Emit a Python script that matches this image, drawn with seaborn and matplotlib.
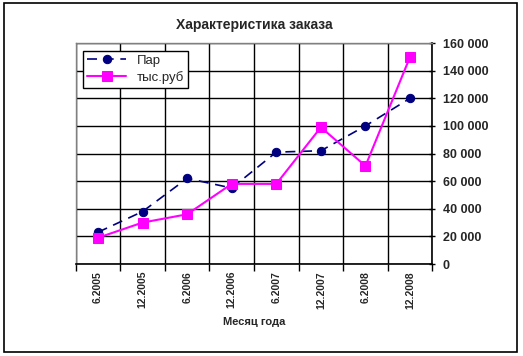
import matplotlib
matplotlib.use("Agg")
import matplotlib.pyplot as plt
import matplotlib.ticker as mticker
from matplotlib.patches import Rectangle
import numpy as np
import pandas as pd
import seaborn as sns

# Chart data
months = ["6.2005", "12.2005", "6.2006", "12.2006", "6.2007", "12.2007", "6.2008", "12.2008"]
pairs = [23000, 38000, 62000, 55000, 81000, 82000, 100000, 120000]
rub = [19000, 30000, 36000, 58000, 58000, 99000, 71000, 150000]

df = pd.DataFrame({"pos": np.arange(len(months)), "Пар": pairs, "тыс.руб": rub})

sns.set_style("white")
plt.rcParams["font.family"] = ["Liberation Sans", "DejaVu Sans"]

fig = plt.figure(figsize=(5.23, 3.56), dpi=100)
ax = fig.add_axes([0.1447, 0.2584, 0.682, 0.6208])

sns.lineplot(data=df, x="pos", y="Пар", ax=ax, color="#000080", linestyle=(0, (6, 4)),
             linewidth=1.2, marker="o", markersize=6, markeredgecolor="#000080", label="Пар")
sns.lineplot(data=df, x="pos", y="тыс.руб", ax=ax, color="#FF00FF", linestyle="-",
             linewidth=1.5, marker="s", markersize=6.5, markeredgecolor="#FF00FF", label="тыс.руб")

ax.set_xlim(-0.5, len(months) - 0.5)
ax.set_ylim(0, 160000)

# x axis: labels at centers, ticks/grid at category boundaries
ax.set_xticks(np.arange(len(months)))
ax.set_xticklabels(months, rotation=90, fontsize=7.5, fontweight="bold")
ax.set_xticks(np.arange(len(months) + 1) - 0.5, minor=True)
ax.tick_params(axis="x", which="major", length=0, pad=5)
ax.tick_params(axis="x", which="minor", length=5, width=1, color="black", direction="out", bottom=True)

# y axis on the right
ax.yaxis.tick_right()
ax.set_yticks(np.arange(0, 160001, 20000))
ax.yaxis.set_major_formatter(mticker.FuncFormatter(lambda v, p: f"{int(v):,}".replace(",", " ")))
ax.tick_params(axis="y", right=True, length=5, width=1, color="black", direction="inout", pad=5)
for lab in ax.get_yticklabels():
    lab.set_fontweight("bold")
    lab.set_fontsize(9)

ax.grid(False)
ax.yaxis.grid(True, color="black", linewidth=1)
ax.xaxis.grid(True, which="minor", color="black", linewidth=1)

for side in ["top", "left"]:
    ax.spines[side].set_color("#808080")
    ax.spines[side].set_linewidth(1)
for side in ["bottom", "right"]:
    ax.spines[side].set_color("black")
    ax.spines[side].set_linewidth(1.2)

ax.set_ylabel("")
ax.set_xlabel("Месяц года", fontsize=8, fontweight="bold", labelpad=6)
ax.set_title("Характеристика заказа", fontsize=10, fontweight="bold", pad=10)

leg = ax.legend(loc="upper left", bbox_to_anchor=(0.02, 0.965), borderaxespad=0,
                fancybox=False, edgecolor="black", framealpha=1, fontsize=9.5,
                handlelength=3, borderpad=0.3, labelspacing=0.3)
leg.get_frame().set_linewidth(1)

# outer chart frame
fig.patches.append(Rectangle((4 / 523, 1 - 352 / 356), 513 / 523, 349 / 356,
                             transform=fig.transFigure, fill=False,
                             edgecolor="black", linewidth=1.2))

fig.savefig("out.png", dpi=100)
